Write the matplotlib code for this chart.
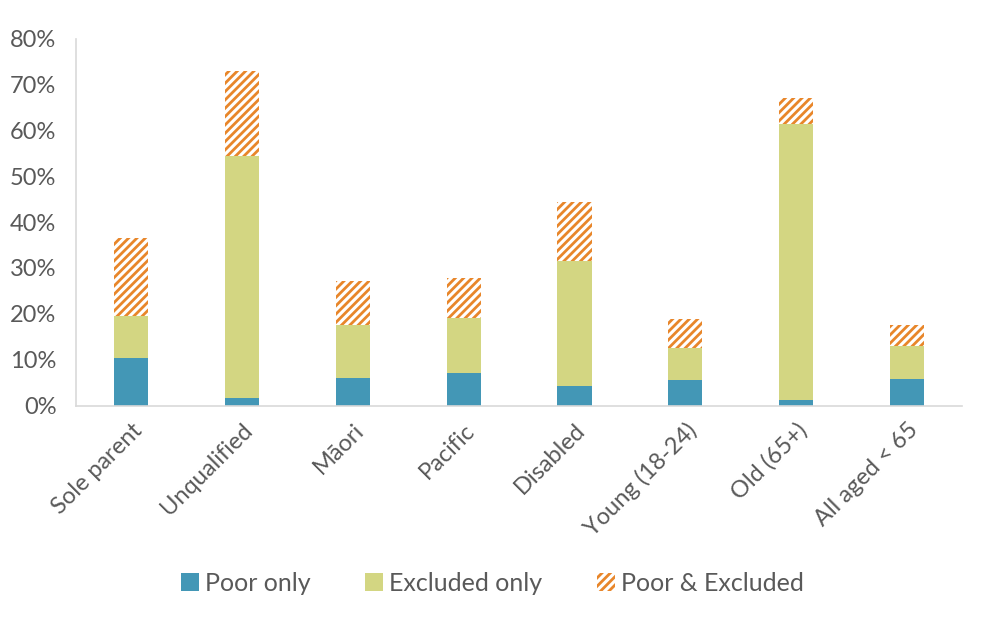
import numpy as np
import matplotlib
matplotlib.use("Agg")
from matplotlib import pyplot as plt
from matplotlib.ticker import PercentFormatter

categories = ['Sole parent', 'Unqualified', 'Māori', 'Pacific', 'Disabled',
              'Young (18-24)', 'Old (65+)', 'All aged < 65']
poor_only = [10.3, 1.6, 6.0, 7.0, 4.3, 5.6, 1.2, 5.7]
excluded_only = [9.2, 52.8, 11.5, 12.2, 27.2, 7.0, 60.1, 7.3]
poor_and_excluded = [17.1, 18.5, 9.6, 8.7, 12.8, 6.2, 5.7, 4.5]

plt.rcParams['font.family'] = ['Lato', 'DejaVu Sans']
plt.rcParams['hatch.linewidth'] = 2.0
plt.rcParams['hatch.color'] = '#E8862A'
text_col = '#595959'

fig = plt.figure(figsize=(9.85, 6.23), dpi=100)
ax = fig.add_axes([0.077, 0.349, 0.900, 0.589])

x = np.arange(len(categories))
w = 0.31
bottom2 = np.array(poor_only)
bottom3 = bottom2 + np.array(excluded_only)
ax.bar(x, poor_only, w, color='#4397B6', label='Poor only')
ax.bar(x, excluded_only, w, bottom=bottom2, color='#D3D682', label='Excluded only')
ax.bar(x, poor_and_excluded, w, bottom=bottom3, color='white', edgecolor='#E8862A',
       linewidth=0, hatch='////', label='Poor & Excluded')

ax.set_xlim(-0.5, len(categories) - 0.5)
ax.set_ylim(0, 80)
ax.set_yticks(np.arange(0, 81, 10))
ax.yaxis.set_major_formatter(PercentFormatter(decimals=0))
ax.set_xticks(x)
ax.set_xticklabels(categories, rotation=45, ha='right', rotation_mode='anchor')
ax.tick_params(axis='both', length=0, labelsize=17, colors=text_col)
ax.tick_params(axis='x', pad=10)
ax.tick_params(axis='y', pad=14)

for s in ['top', 'right']:
    ax.spines[s].set_visible(False)
for s in ['left', 'bottom']:
    ax.spines[s].set_color('#D9D9D9')
    ax.spines[s].set_linewidth(1.2)

lgd = fig.legend(loc='center', bbox_to_anchor=(0.5, 0.064), ncol=3, frameon=False,
                 fontsize=18, handlelength=0.7, handleheight=0.7, handletextpad=0.25,
                 columnspacing=2.2)
for t in lgd.get_texts():
    t.set_color(text_col)

plt.savefig('out.png', dpi=100)
